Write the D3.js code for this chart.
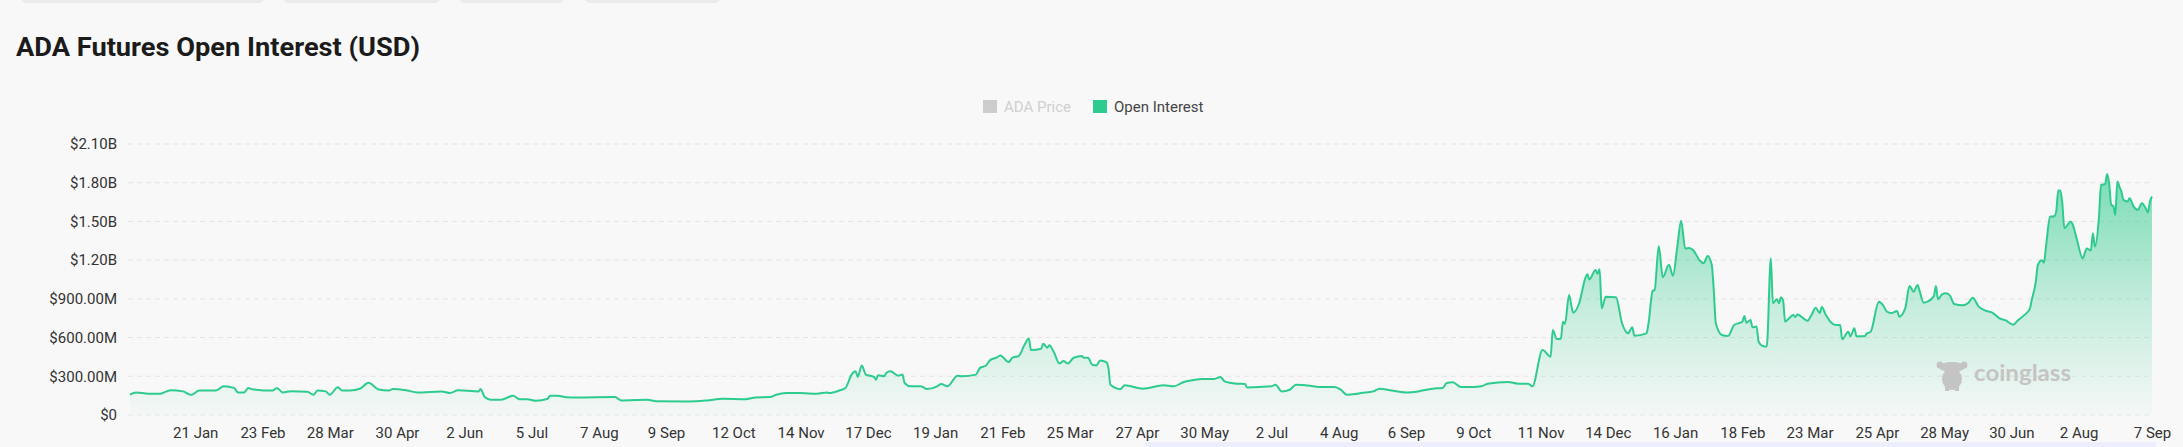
<!DOCTYPE html>
<html><head><meta charset="utf-8">
<script src="https://cdn.jsdelivr.net/npm/d3@7"></script>
<style>
html,body{margin:0;padding:0;background:#f8f8f8;overflow:hidden;}
svg{display:block;font-family:Roboto,"Noto Sans",sans-serif;}
</style>
</head><body><div id="chart"></div>
<script>
// ---------- DATA ----------
const chartTitle = "ADA Futures Open Interest (USD)";
const legendLabels = ["ADA Price", "Open Interest"];
const watermarkText = "coinglass";

// dates of sampled observations
const dates = [
"2022-12-20","2022-12-23","2022-12-29","2023-01-04","2023-01-07","2023-01-09","2023-01-15","2023-01-19","2023-01-23","2023-01-31",
"2023-02-04","2023-02-09","2023-02-11","2023-02-14","2023-02-16","2023-02-18","2023-02-28","2023-03-02","2023-03-05","2023-03-09",
"2023-03-17","2023-03-20","2023-03-22","2023-03-26","2023-03-28","2023-04-01","2023-04-03","2023-04-07","2023-04-12","2023-04-16",
"2023-04-21","2023-04-26","2023-04-28","2023-05-05","2023-05-10","2023-05-22","2023-05-26","2023-05-30","2023-06-09","2023-06-10",
"2023-06-12","2023-06-15","2023-06-20","2023-06-26","2023-06-29","2023-07-03","2023-07-07","2023-07-13","2023-07-14","2023-07-18",
"2023-07-22","2023-07-27","2023-08-15","2023-08-18","2023-08-31","2023-09-04","2023-09-20","2023-09-29","2023-10-07","2023-10-18",
"2023-10-23","2023-10-30","2023-11-02","2023-11-07","2023-11-14","2023-11-22","2023-11-27","2023-11-28","2023-12-03","2023-12-06",
"2023-12-09","2023-12-11","2023-12-12","2023-12-14","2023-12-16","2023-12-20","2023-12-21","2023-12-22","2023-12-25","2023-12-26",
"2023-12-28","2024-01-01","2024-01-03","2024-01-04","2024-01-07","2024-01-12","2024-01-15","2024-01-20","2024-01-22","2024-01-25",
"2024-01-30","2024-02-01","2024-02-08","2024-02-10","2024-02-13","2024-02-15","2024-02-18","2024-02-20","2024-02-24","2024-02-26",
"2024-02-29","2024-03-03","2024-03-05","2024-03-06","2024-03-11","2024-03-12","2024-03-14","2024-03-15","2024-03-17","2024-03-20",
"2024-03-22","2024-03-24","2024-03-27","2024-03-31","2024-04-01","2024-04-03","2024-04-05","2024-04-07","2024-04-09","2024-04-12",
"2024-04-13","2024-04-14","2024-04-19","2024-04-21","2024-04-30","2024-05-10","2024-05-15","2024-05-20","2024-05-24","2024-05-29",
"2024-06-04","2024-06-07","2024-06-09","2024-06-15","2024-06-19","2024-06-20","2024-07-02","2024-07-04","2024-07-07","2024-07-11",
"2024-07-14","2024-07-21","2024-07-25","2024-08-02","2024-08-05","2024-08-08","2024-08-12","2024-08-15","2024-08-21","2024-08-24",
"2024-08-30","2024-09-06","2024-09-12","2024-09-19","2024-09-24","2024-09-26","2024-09-29","2024-10-03","2024-10-09","2024-10-13",
"2024-10-16","2024-10-26","2024-10-31","2024-11-05","2024-11-07","2024-11-12","2024-11-16","2024-11-17","2024-11-19","2024-11-21",
"2024-11-22","2024-11-23","2024-11-25","2024-11-27","2024-11-30","2024-12-03","2024-12-04","2024-12-05","2024-12-08","2024-12-09",
"2024-12-10","2024-12-11","2024-12-13","2024-12-18","2024-12-21","2024-12-24","2024-12-26","2024-12-27","2025-01-02","2025-01-03",
"2025-01-05","2025-01-06","2025-01-08","2025-01-10","2025-01-13","2025-01-15","2025-01-17","2025-01-19","2025-01-21","2025-01-23",
"2025-01-25","2025-01-28","2025-01-30","2025-02-01","2025-02-03","2025-02-04","2025-02-05","2025-02-08","2025-02-11","2025-02-14",
"2025-02-18","2025-02-19","2025-02-20","2025-02-22","2025-02-23","2025-02-25","2025-02-26","2025-02-28","2025-03-02","2025-03-04",
"2025-03-05","2025-03-07","2025-03-08","2025-03-09","2025-03-10","2025-03-11","2025-03-13","2025-03-15","2025-03-16","2025-03-17",
"2025-03-22","2025-03-24","2025-03-26","2025-03-28","2025-03-29","2025-03-31","2025-04-03","2025-04-05","2025-04-07","2025-04-08",
"2025-04-11","2025-04-12","2025-04-14","2025-04-15","2025-04-19","2025-04-20","2025-04-22","2025-04-26","2025-04-28","2025-04-30",
"2025-05-02","2025-05-05","2025-05-06","2025-05-09","2025-05-11","2025-05-13","2025-05-15","2025-05-16","2025-05-18","2025-05-20",
"2025-05-23","2025-05-24","2025-05-25","2025-05-27","2025-05-29","2025-05-31","2025-06-02","2025-06-06","2025-06-09","2025-06-11",
"2025-06-14","2025-06-17","2025-06-21","2025-06-24","2025-06-27","2025-07-01","2025-07-03","2025-07-06","2025-07-09","2025-07-10",
"2025-07-12","2025-07-13","2025-07-15","2025-07-16","2025-07-17","2025-07-19","2025-07-21","2025-07-22","2025-07-23","2025-07-24",
"2025-07-25","2025-07-26","2025-07-27","2025-07-29","2025-07-30","2025-08-01","2025-08-04","2025-08-06","2025-08-08","2025-08-09",
"2025-08-10","2025-08-12","2025-08-13","2025-08-15","2025-08-16","2025-08-17","2025-08-18","2025-08-19","2025-08-20","2025-08-21",
"2025-08-22","2025-08-23","2025-08-24","2025-08-26","2025-08-27","2025-08-29","2025-08-31","2025-09-02","2025-09-04","2025-09-05","2025-09-06","2025-09-07"
];

// open interest, millions of USD
const openInterest = [
157,175,165,165,183,191,183,157,189,189,
223,210,175,175,210,200,189,210,175,185,
180,157,189,183,157,215,189,189,205,249,
197,189,202,190,175,183,170,191,183,202,
139,118,118,149,123,123,110,126,149,149,
138,136,139,113,118,107,105,113,126,123,
136,139,157,170,170,165,175,170,190,209,
313,339,295,384,313,295,274,308,300,326,
339,305,313,248,222,222,201,222,240,222,
305,300,313,365,384,425,444,462,410,444,
457,548,592,504,514,553,522,540,496,399,
418,399,444,457,444,444,391,384,423,410,
365,235,201,230,204,230,222,256,269,279,
279,295,261,243,240,214,222,235,183,196,
235,227,217,217,196,157,162,170,183,204,
190,175,183,204,209,248,253,217,217,222,
243,256,243,243,222,504,452,659,589,591,
723,706,930,793,868,1060,1090,1050,1124,1095,
1130,827,917,912,711,633,680,615,633,711,
961,969,1310,1067,1164,1079,1290,1506,1290,1295,
1275,1200,1176,1233,1164,969,711,620,612,697,
723,767,715,736,680,685,568,535,530,1214,
866,897,866,912,890,723,750,774,760,779,
731,777,831,790,836,775,711,697,697,587,
646,610,672,610,610,630,646,878,852,800,
790,805,762,830,1000,956,1008,961,870,880,
922,1000,897,935,943,922,860,850,870,909,
840,810,790,750,735,700,730,770,820,891,
1034,1163,1200,1180,1305,1537,1540,1576,1739,1739,
1640,1447,1460,1500,1480,1370,1215,1290,1275,1408,
1305,1537,1783,1790,1868,1790,1628,1620,1550,1809,
1770,1730,1667,1655,1680,1615,1590,1641,1600,1570,1654,1693
];

const xTickDates = [
"2023-01-21","2023-02-23","2023-03-28","2023-04-30","2023-06-02","2023-07-05","2023-08-07","2023-09-09","2023-10-12","2023-11-14",
"2023-12-17","2024-01-19","2024-02-21","2024-03-25","2024-04-27","2024-05-30","2024-07-02","2024-08-04","2024-09-06","2024-10-09",
"2024-11-11","2024-12-14","2025-01-16","2025-02-18","2025-03-23","2025-04-25","2025-05-28","2025-06-30","2025-08-02","2025-09-07"
];
const yTickValues = [0, 300, 600, 900, 1200, 1500, 1800, 2100]; // millions
const topTabs = [[21,264],[283,440],[459,564],[585,720]];

// ---------- LAYOUT ----------
const W = 2183, H = 447;
const plot = {left: 130, right: 2152, top: 144, bottom: 415};
const green = "#2ecb8e";

const parse = d3.utcParse("%Y-%m-%d");
const data = dates.map((d, i) => ({date: parse(d), v: openInterest[i]}));

const x = d3.scaleUtc().domain(d3.extent(data, d => d.date)).range([plot.left, plot.right]);
const y = d3.scaleLinear().domain([0, 2100]).range([plot.bottom, plot.top]);

const svg = d3.select("#chart").append("svg").attr("width", W).attr("height", H);
svg.append("rect").attr("width", W).attr("height", H).attr("fill", "#f8f8f8");

// top tabs (page decoration)
svg.selectAll("rect.tab").data(topTabs).join("rect").attr("class","tab")
  .attr("x", d => d[0]).attr("y", -10).attr("width", d => d[1]-d[0]).attr("height", 13)
  .attr("rx", 5).attr("fill", "#ebebeb");

// title
svg.append("text").attr("x", 16).attr("y", 56).text(chartTitle)
  .attr("font-size", 26).attr("font-weight", 700).attr("fill", "#1b1b1b")
  .attr("textLength", 404).attr("lengthAdjust", "spacingAndGlyphs");

// legend
const lg = svg.append("g");
lg.append("rect").attr("x", 983).attr("y", 100).attr("width", 14).attr("height", 13).attr("fill", "#cccccc");
lg.append("text").attr("x", 1004).attr("y", 112).text(legendLabels[0]).attr("font-size", 15).attr("fill", "#d0d0d0");
lg.append("rect").attr("x", 1093).attr("y", 100).attr("width", 14).attr("height", 13).attr("fill", green);
lg.append("text").attr("x", 1114).attr("y", 112).text(legendLabels[1]).attr("font-size", 15).attr("fill", "#444");

// y grid + labels
const fmtY = v => v === 0 ? "$0" : (v < 1000 ? "$" + v.toFixed(2) + "M" : "$" + (v/1000).toFixed(2) + "B");
const yAxis = d3.axisLeft(y).tickValues(yTickValues).tickFormat(fmtY).tickSize(0).tickPadding(0);
const yg = svg.append("g").attr("transform", `translate(117,0)`).call(yAxis);
yg.select(".domain").remove();
yg.selectAll("text").attr("font-size", 15).attr("fill", "#333").attr("font-family", "Roboto,sans-serif");

svg.append("g").selectAll("line").data(yTickValues).join("line")
  .attr("x1", 128).attr("x2", plot.right).attr("y1", d => y(d)).attr("y2", d => y(d))
  .attr("stroke", "#e4e4e4").attr("stroke-width", 1).attr("stroke-dasharray", "5,4");

// gradient
const defs = svg.append("defs");
const grad = defs.append("linearGradient").attr("id", "oiGrad").attr("gradientUnits", "userSpaceOnUse")
  .attr("x1", 0).attr("x2", 0).attr("y1", y(d3.max(openInterest))).attr("y2", plot.bottom);
grad.append("stop").attr("offset", 0).attr("stop-color", green).attr("stop-opacity", 0.62);
grad.append("stop").attr("offset", 0.55).attr("stop-color", green).attr("stop-opacity", 0.25);
grad.append("stop").attr("offset", 1).attr("stop-color", green).attr("stop-opacity", 0.02);

const area = d3.area().x(d => x(d.date)).y0(plot.bottom).y1(d => y(d.v)).curve(d3.curveMonotoneX);
const line = d3.line().x(d => x(d.date)).y(d => y(d.v)).curve(d3.curveMonotoneX);

svg.append("path").datum(data).attr("d", area).attr("fill", "url(#oiGrad)");

// watermark
const wm = svg.append("g").attr("fill", "#c4c4c4");
wm.append("ellipse").attr("cx", 1952).attr("cy", 379).attr("rx", 10).attr("ry", 11);
wm.append("ellipse").attr("cx", 1952).attr("cy", 367).attr("rx", 13).attr("ry", 5);
wm.append("circle").attr("cx", 1940).attr("cy", 365).attr("r", 3.5);
wm.append("circle").attr("cx", 1964).attr("cy", 365).attr("r", 3.5);
wm.append("rect").attr("x", 1945).attr("y", 385).attr("width", 4).attr("height", 6);
wm.append("rect").attr("x", 1955).attr("y", 385).attr("width", 4).attr("height", 6);
wm.append("text").attr("x", 1974).attr("y", 381).text(watermarkText)
  .attr("font-size", 23).attr("font-weight", 700).attr("font-family", "Lato,Roboto,sans-serif")
  .attr("textLength", 97).attr("lengthAdjust", "spacingAndGlyphs");

svg.append("path").datum(data).attr("d", line).attr("fill", "none")
  .attr("stroke", green).attr("stroke-width", 2).attr("stroke-linejoin", "round");

// x axis labels
const xAxis = d3.axisBottom(x).tickValues(xTickDates.map(parse)).tickFormat(d3.utcFormat("%-d %b")).tickSize(0).tickPadding(0);
const xg = svg.append("g").attr("transform", `translate(0,427)`).call(xAxis);
xg.select(".domain").remove();
xg.selectAll("text").attr("font-size", 15).attr("fill", "#333").attr("font-family", "Roboto,sans-serif");

// bottom decoration strip
svg.append("rect").attr("x", 1145).attr("y", 442).attr("width", 1011).attr("height", 6).attr("fill", "#eceffb");
</script>
</body></html>
